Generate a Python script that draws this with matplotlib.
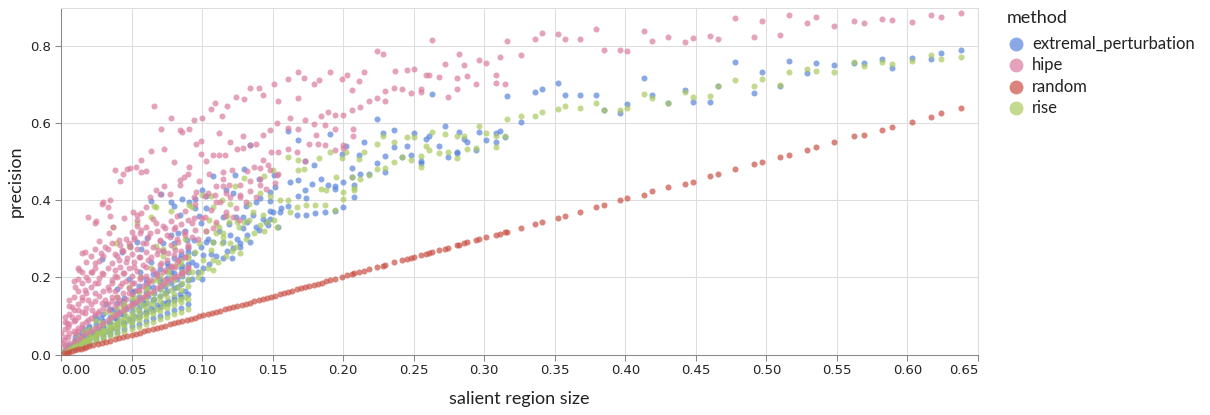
import matplotlib
matplotlib.use("Agg")
import matplotlib.pyplot as plt
from matplotlib.lines import Line2D

# method colours (drawn at opacity 0.7 like the original)
colors = {
    "extremal_perturbation": "#5884db",
    "hipe": "#db7c9e",
    "random": "#c95044",
    "rise": "#a8c95f",
}
methods = ["extremal_perturbation", "hipe", "random", "rise"]

# (salient region size, precision)
extremal_perturbation = [
    (0.002, 0.010), (0.004, 0.015), (0.006, 0.018), (0.008, 0.025), (0.010, 0.030),
    (0.012, 0.028), (0.014, 0.040), (0.016, 0.035), (0.018, 0.048), (0.020, 0.042),
    (0.022, 0.055), (0.024, 0.050), (0.026, 0.065), (0.028, 0.058), (0.030, 0.075),
    (0.032, 0.062), (0.034, 0.085), (0.036, 0.070), (0.038, 0.095), (0.040, 0.078),
    (0.042, 0.105), (0.044, 0.085), (0.046, 0.118), (0.048, 0.092), (0.050, 0.125),
    (0.052, 0.100), (0.054, 0.135), (0.056, 0.108), (0.058, 0.145), (0.060, 0.112),
    (0.062, 0.152), (0.064, 0.120), (0.066, 0.160), (0.068, 0.128), (0.070, 0.170),
    (0.072, 0.135), (0.074, 0.178), (0.076, 0.140), (0.078, 0.185), (0.080, 0.150),
    (0.082, 0.195), (0.084, 0.158), (0.086, 0.205), (0.088, 0.165), (0.090, 0.215),
    (0.012, 0.050), (0.020, 0.075), (0.028, 0.095), (0.036, 0.115), (0.044, 0.140),
    (0.052, 0.165), (0.060, 0.185), (0.068, 0.210), (0.076, 0.230), (0.084, 0.250),
    (0.090, 0.265), (0.040, 0.170), (0.056, 0.215), (0.064, 0.240), (0.072, 0.270),
    (0.080, 0.290), (0.088, 0.320), (0.048, 0.195), (0.032, 0.130), (0.024, 0.100),
    (0.016, 0.065), (0.070, 0.195), (0.086, 0.230), (0.078, 0.215), (0.062, 0.175),
    (0.082, 0.175), (0.074, 0.160), (0.066, 0.145), (0.058, 0.130),
    (0.029, 0.248), (0.043, 0.265), (0.049, 0.282), (0.054, 0.293), (0.061, 0.303),
    (0.057, 0.274), (0.072, 0.290), (0.078, 0.311), (0.083, 0.315), (0.089, 0.297),
    (0.064, 0.399), (0.071, 0.417), (0.078, 0.397), (0.080, 0.385), (0.086, 0.404),
    (0.091, 0.397), (0.095, 0.404), (0.084, 0.363), (0.095, 0.380),
    (0.097, 0.215), (0.105, 0.235), (0.110, 0.255), (0.118, 0.268), (0.125, 0.300),
    (0.132, 0.310), (0.138, 0.330), (0.145, 0.345), (0.150, 0.370), (0.104, 0.300),
    (0.112, 0.320), (0.119, 0.340), (0.106, 0.260), (0.131, 0.385), (0.138, 0.395),
    (0.156, 0.380), (0.098, 0.360), (0.103, 0.380),
    (0.161, 0.581), (0.168, 0.558), (0.134, 0.543), (0.108, 0.463), (0.130, 0.482),
    (0.123, 0.467), (0.117, 0.428), (0.122, 0.419), (0.140, 0.456), (0.151, 0.467),
    (0.148, 0.422), (0.152, 0.435), (0.162, 0.449), (0.168, 0.452), (0.173, 0.428),
    (0.178, 0.443), (0.184, 0.456), (0.189, 0.441), (0.173, 0.502), (0.179, 0.493),
    (0.168, 0.411), (0.174, 0.407), (0.167, 0.363), (0.174, 0.362), (0.180, 0.367),
    (0.187, 0.371), (0.194, 0.372), (0.200, 0.383), (0.161, 0.386), (0.155, 0.371),
    (0.148, 0.398), (0.141, 0.406), (0.148, 0.374), (0.143, 0.353), (0.136, 0.363),
    (0.132, 0.345), (0.129, 0.358), (0.124, 0.358), (0.148, 0.352), (0.154, 0.332),
    (0.147, 0.337), (0.140, 0.324), (0.134, 0.293), (0.127, 0.289), (0.122, 0.276),
    (0.121, 0.250), (0.127, 0.280), (0.115, 0.291), (0.115, 0.250), (0.108, 0.291),
    (0.103, 0.291), (0.101, 0.259), (0.099, 0.280), (0.094, 0.263), (0.093, 0.241),
    (0.096, 0.233), (0.101, 0.224), (0.100, 0.195), (0.093, 0.195), (0.099, 0.341),
    (0.094, 0.298), (0.100, 0.428), (0.103, 0.411), (0.120, 0.311), (0.129, 0.328),
    (0.115, 0.358),
    (0.191, 0.573), (0.199, 0.521), (0.202, 0.542), (0.200, 0.449), (0.194, 0.438),
    (0.194, 0.430), (0.206, 0.484), (0.206, 0.460), (0.208, 0.441), (0.208, 0.409),
    (0.211, 0.517), (0.212, 0.469), (0.215, 0.551), (0.218, 0.469), (0.224, 0.612),
    (0.224, 0.497), (0.228, 0.575), (0.230, 0.515), (0.230, 0.475), (0.236, 0.584),
    (0.236, 0.539), (0.242, 0.512), (0.245, 0.542), (0.248, 0.519), (0.250, 0.575),
    (0.255, 0.502), (0.255, 0.497), (0.259, 0.560), (0.261, 0.568), (0.263, 0.677),
    (0.268, 0.541), (0.272, 0.594), (0.274, 0.512), (0.281, 0.526), (0.281, 0.524),
    (0.282, 0.578), (0.286, 0.560), (0.288, 0.553), (0.294, 0.530), (0.296, 0.578),
    (0.301, 0.556), (0.308, 0.575), (0.308, 0.551), (0.311, 0.580), (0.315, 0.564),
    (0.316, 0.672), (0.326, 0.605), (0.336, 0.682), (0.341, 0.690), (0.352, 0.704),
    (0.357, 0.674), (0.368, 0.673), (0.379, 0.674), (0.385, 0.636), (0.396, 0.626),
    (0.401, 0.651), (0.413, 0.717),
    (0.419, 0.675), (0.430, 0.652), (0.442, 0.687), (0.448, 0.655), (0.460, 0.656),
    (0.466, 0.698), (0.478, 0.760), (0.491, 0.679), (0.497, 0.735), (0.510, 0.698),
    (0.516, 0.762), (0.529, 0.730), (0.535, 0.757), (0.548, 0.751), (0.562, 0.757),
    (0.569, 0.758), (0.582, 0.768), (0.589, 0.744), (0.603, 0.771), (0.617, 0.768),
    (0.624, 0.782), (0.638, 0.790),
]

# dense columns near the origin: size -> precisions
extremal_perturbation_dense = {
    0.005: [0.012, 0.018, 0.024],
    0.010: [0.018, 0.026, 0.035, 0.045],
    0.015: [0.024, 0.033, 0.046, 0.058],
    0.020: [0.031, 0.040, 0.052, 0.068],
    0.025: [0.038, 0.047, 0.061, 0.078, 0.092],
    0.030: [0.045, 0.056, 0.071, 0.088, 0.105],
    0.035: [0.052, 0.064, 0.083, 0.098, 0.118],
    0.040: [0.058, 0.072, 0.091, 0.112, 0.135],
    0.045: [0.066, 0.081, 0.103, 0.125, 0.148],
    0.050: [0.073, 0.090, 0.112, 0.138, 0.162],
    0.055: [0.080, 0.098, 0.122, 0.150, 0.178],
    0.060: [0.088, 0.107, 0.133, 0.162, 0.195],
    0.065: [0.095, 0.116, 0.142, 0.176, 0.208],
    0.070: [0.101, 0.124, 0.153, 0.188, 0.222],
    0.075: [0.108, 0.133, 0.164, 0.199, 0.238],
    0.080: [0.116, 0.141, 0.172, 0.212, 0.251],
    0.085: [0.122, 0.150, 0.183, 0.225, 0.262],
    0.090: [0.130, 0.158, 0.193, 0.236, 0.276],
}

hipe = [
    (0.001, 0.029), (0.003, 0.020), (0.000, 0.055), (0.002, 0.038), (0.003, 0.098),
    (0.004, 0.081), (0.005, 0.072), (0.005, 0.046), (0.006, 0.142), (0.008, 0.124),
    (0.008, 0.098), (0.009, 0.190), (0.010, 0.176), (0.010, 0.090), (0.010, 0.055),
    (0.012, 0.224), (0.012, 0.116), (0.012, 0.060), (0.013, 0.220), (0.015, 0.263),
    (0.015, 0.142), (0.015, 0.072), (0.017, 0.267), (0.017, 0.168), (0.017, 0.107),
    (0.019, 0.194), (0.019, 0.142), (0.019, 0.090), (0.022, 0.215), (0.022, 0.116),
    (0.024, 0.341), (0.024, 0.237), (0.024, 0.159), (0.025, 0.348), (0.026, 0.185),
    (0.026, 0.107), (0.028, 0.263), (0.029, 0.211), (0.029, 0.133), (0.031, 0.280),
    (0.031, 0.142), (0.034, 0.315), (0.034, 0.168), (0.034, 0.116), (0.036, 0.194),
    (0.036, 0.150), (0.037, 0.332), (0.038, 0.220), (0.041, 0.298), (0.041, 0.246),
    (0.041, 0.142), (0.043, 0.272), (0.043, 0.185), (0.045, 0.211), (0.047, 0.250),
    (0.048, 0.159), (0.049, 0.280), (0.050, 0.185), (0.052, 0.306), (0.052, 0.228),
    (0.054, 0.350), (0.055, 0.254), (0.055, 0.168), (0.057, 0.324), (0.057, 0.202),
    (0.060, 0.289), (0.060, 0.228), (0.062, 0.185), (0.063, 0.315), (0.064, 0.254),
    (0.064, 0.194), (0.067, 0.341), (0.067, 0.211), (0.069, 0.272), (0.070, 0.298),
    (0.071, 0.237), (0.074, 0.328), (0.074, 0.194), (0.074, 0.220), (0.076, 0.263),
    (0.077, 0.306), (0.078, 0.228), (0.081, 0.332), (0.081, 0.272), (0.081, 0.228),
    (0.083, 0.293), (0.083, 0.246), (0.086, 0.211), (0.087, 0.319), (0.088, 0.254),
    (0.090, 0.280), (0.090, 0.228), (0.093, 0.341), (0.095, 0.324), (0.093, 0.306),
    (0.066, 0.646), (0.078, 0.615), (0.071, 0.585), (0.084, 0.583), (0.086, 0.578),
    (0.091, 0.587), (0.073, 0.534), (0.064, 0.528), (0.057, 0.504), (0.080, 0.499),
    (0.091, 0.487), (0.087, 0.461), (0.090, 0.470), (0.084, 0.454), (0.084, 0.441),
    (0.053, 0.488), (0.049, 0.484), (0.047, 0.482), (0.060, 0.476), (0.057, 0.474),
    (0.038, 0.478), (0.044, 0.470), (0.042, 0.451), (0.073, 0.437), (0.063, 0.410),
    (0.070, 0.417), (0.077, 0.417), (0.067, 0.427), (0.035, 0.402), (0.029, 0.390),
    (0.030, 0.396), (0.033, 0.383), (0.019, 0.358), (0.035, 0.361), (0.045, 0.354),
    (0.051, 0.369), (0.054, 0.363), (0.057, 0.367), (0.060, 0.384), (0.065, 0.352),
    (0.097, 0.300), (0.103, 0.320), (0.110, 0.345), (0.117, 0.370), (0.124, 0.380),
    (0.131, 0.395), (0.138, 0.410), (0.145, 0.430), (0.152, 0.445), (0.106, 0.375),
    (0.113, 0.395), (0.120, 0.410), (0.127, 0.440), (0.134, 0.450), (0.141, 0.440),
    (0.098, 0.450), (0.105, 0.470), (0.121, 0.480),
    (0.094, 0.608), (0.100, 0.613), (0.106, 0.638), (0.109, 0.653), (0.114, 0.620),
    (0.118, 0.645), (0.124, 0.669), (0.130, 0.664), (0.134, 0.691), (0.140, 0.692),
    (0.143, 0.674), (0.151, 0.703), (0.154, 0.658), (0.168, 0.666), (0.162, 0.614),
    (0.153, 0.601), (0.148, 0.582), (0.143, 0.570), (0.138, 0.546), (0.134, 0.544),
    (0.129, 0.568), (0.129, 0.536), (0.125, 0.534), (0.120, 0.551), (0.116, 0.518),
    (0.112, 0.518), (0.108, 0.518), (0.103, 0.503), (0.099, 0.521), (0.096, 0.547),
    (0.099, 0.554), (0.112, 0.575), (0.115, 0.475), (0.115, 0.456), (0.110, 0.438),
    (0.115, 0.438), (0.119, 0.439), (0.117, 0.419), (0.109, 0.415), (0.110, 0.395),
    (0.104, 0.419), (0.102, 0.411), (0.096, 0.423), (0.094, 0.409), (0.095, 0.391),
    (0.094, 0.354), (0.100, 0.354), (0.102, 0.357), (0.108, 0.329), (0.116, 0.361),
    (0.122, 0.356), (0.126, 0.350), (0.127, 0.415), (0.127, 0.408), (0.134, 0.425),
    (0.132, 0.476), (0.137, 0.487), (0.141, 0.485), (0.143, 0.506), (0.147, 0.491),
    (0.148, 0.478), (0.153, 0.466), (0.154, 0.469), (0.141, 0.457), (0.149, 0.525),
    (0.154, 0.525), (0.161, 0.534), (0.167, 0.525), (0.173, 0.503), (0.161, 0.588),
    (0.168, 0.587), (0.173, 0.608), (0.179, 0.598), (0.184, 0.620), (0.189, 0.629),
    (0.187, 0.543), (0.182, 0.547), (0.176, 0.547), (0.181, 0.571), (0.187, 0.596),
    (0.161, 0.716), (0.168, 0.734), (0.172, 0.718), (0.179, 0.703), (0.183, 0.713),
    (0.191, 0.733), (0.199, 0.716), (0.203, 0.726), (0.206, 0.687), (0.211, 0.710),
    (0.212, 0.644), (0.215, 0.734), (0.218, 0.659), (0.224, 0.789), (0.224, 0.665),
    (0.228, 0.781), (0.230, 0.684), (0.230, 0.658), (0.236, 0.691), (0.237, 0.736),
    (0.242, 0.690), (0.245, 0.738), (0.248, 0.680), (0.250, 0.741), (0.255, 0.690),
    (0.255, 0.681), (0.259, 0.726), (0.261, 0.726), (0.263, 0.816), (0.268, 0.721),
    (0.272, 0.755), (0.274, 0.669), (0.281, 0.717), (0.281, 0.690), (0.282, 0.781),
    (0.286, 0.752), (0.288, 0.724), (0.294, 0.703), (0.296, 0.765), (0.301, 0.757),
    (0.308, 0.727), (0.308, 0.705), (0.311, 0.772), (0.315, 0.702), (0.316, 0.814),
    (0.326, 0.778), (0.336, 0.820), (0.341, 0.835), (0.352, 0.833), (0.357, 0.820),
    (0.368, 0.819), (0.379, 0.846), (0.385, 0.792), (0.396, 0.791), (0.401, 0.789),
    (0.413, 0.841), (0.194, 0.621), (0.200, 0.621), (0.206, 0.635), (0.194, 0.585),
    (0.207, 0.585), (0.207, 0.567), (0.200, 0.545), (0.200, 0.536), (0.194, 0.531),
    (0.419, 0.815), (0.430, 0.825), (0.442, 0.812), (0.448, 0.823), (0.460, 0.828),
    (0.466, 0.820), (0.478, 0.873), (0.491, 0.825), (0.497, 0.865), (0.510, 0.830),
    (0.516, 0.882), (0.529, 0.861), (0.535, 0.877), (0.548, 0.854), (0.562, 0.867),
    (0.569, 0.861), (0.582, 0.871), (0.589, 0.869), (0.603, 0.863), (0.617, 0.881),
    (0.624, 0.876), (0.638, 0.886),
]

hipe_dense = {
    0.003: [0.025, 0.045, 0.065, 0.085],
    0.006: [0.030, 0.055, 0.080, 0.105, 0.125],
    0.009: [0.035, 0.060, 0.088, 0.115, 0.150],
    0.012: [0.040, 0.070, 0.098, 0.130, 0.165, 0.195],
    0.015: [0.048, 0.078, 0.110, 0.150, 0.185, 0.215],
    0.018: [0.055, 0.085, 0.120, 0.160, 0.200, 0.240],
    0.021: [0.060, 0.095, 0.130, 0.175, 0.215, 0.255],
    0.024: [0.068, 0.105, 0.140, 0.185, 0.225, 0.275],
    0.027: [0.075, 0.112, 0.152, 0.198, 0.242, 0.295],
    0.030: [0.082, 0.120, 0.165, 0.210, 0.255],
    0.033: [0.090, 0.130, 0.175, 0.225, 0.275],
    0.036: [0.098, 0.140, 0.185, 0.238, 0.290],
    0.038: [0.102, 0.125, 0.165, 0.205, 0.262],
    0.040: [0.105, 0.150, 0.200, 0.255],
    0.042: [0.110, 0.135, 0.178, 0.228, 0.285],
    0.044: [0.115, 0.160, 0.212, 0.270],
    0.046: [0.120, 0.145, 0.192, 0.240, 0.300],
    0.048: [0.125, 0.172, 0.225, 0.290],
    0.050: [0.130, 0.158, 0.205, 0.262, 0.318],
    0.052: [0.135, 0.185, 0.240, 0.300],
    0.054: [0.140, 0.168, 0.218, 0.275, 0.335],
    0.056: [0.145, 0.195, 0.252, 0.315],
    0.058: [0.150, 0.178, 0.232, 0.290],
    0.060: [0.155, 0.205, 0.265, 0.330],
    0.062: [0.160, 0.192, 0.245, 0.305],
    0.065: [0.165, 0.220, 0.280],
    0.068: [0.172, 0.205, 0.260, 0.320],
    0.070: [0.178, 0.232, 0.295],
    0.072: [0.182, 0.215, 0.270, 0.335],
    0.075: [0.190, 0.245, 0.310],
    0.078: [0.195, 0.230, 0.285, 0.348],
    0.080: [0.200, 0.258, 0.325],
    0.082: [0.205, 0.240, 0.300, 0.360],
    0.085: [0.212, 0.270, 0.340],
    0.088: [0.218, 0.252, 0.310, 0.372],
    0.090: [0.225, 0.285, 0.350],
}

random = [
    (0.002, 0.003), (0.004, 0.005), (0.006, 0.007), (0.008, 0.009), (0.010, 0.011),
    (0.012, 0.013), (0.014, 0.015), (0.016, 0.017), (0.018, 0.019), (0.020, 0.021),
    (0.023, 0.024), (0.026, 0.027), (0.029, 0.030), (0.032, 0.033), (0.035, 0.036),
    (0.038, 0.039), (0.041, 0.042), (0.044, 0.045), (0.047, 0.048), (0.050, 0.051),
    (0.053, 0.054), (0.056, 0.057), (0.059, 0.060), (0.062, 0.063), (0.065, 0.066),
    (0.068, 0.069), (0.071, 0.072), (0.074, 0.075), (0.077, 0.078), (0.080, 0.081),
    (0.083, 0.084), (0.086, 0.087), (0.089, 0.090), (0.092, 0.093), (0.095, 0.096),
    (0.098, 0.099), (0.101, 0.102), (0.104, 0.105), (0.107, 0.108), (0.110, 0.111),
    (0.113, 0.114), (0.116, 0.117), (0.119, 0.120), (0.122, 0.123), (0.125, 0.126),
    (0.128, 0.129), (0.131, 0.132), (0.134, 0.135), (0.137, 0.138), (0.140, 0.141),
    (0.143, 0.144), (0.146, 0.147), (0.149, 0.150), (0.152, 0.153), (0.155, 0.156),
    (0.158, 0.160), (0.161, 0.163), (0.164, 0.166), (0.167, 0.169), (0.170, 0.172),
    (0.173, 0.175), (0.176, 0.178), (0.179, 0.181), (0.182, 0.184), (0.185, 0.187),
    (0.188, 0.190), (0.191, 0.194), (0.194, 0.197), (0.199, 0.202), (0.203, 0.206),
    (0.206, 0.209), (0.208, 0.211), (0.211, 0.214), (0.215, 0.218), (0.218, 0.221),
    (0.224, 0.227), (0.228, 0.231), (0.230, 0.233), (0.236, 0.239), (0.242, 0.245),
    (0.245, 0.248), (0.248, 0.251), (0.250, 0.253), (0.255, 0.258), (0.259, 0.262),
    (0.261, 0.264), (0.263, 0.266), (0.268, 0.271), (0.272, 0.275), (0.274, 0.277),
    (0.281, 0.284), (0.282, 0.285), (0.286, 0.289), (0.288, 0.291), (0.294, 0.297),
    (0.296, 0.299), (0.301, 0.304), (0.308, 0.311), (0.311, 0.314), (0.315, 0.318),
    (0.316, 0.319), (0.326, 0.329), (0.336, 0.339), (0.341, 0.344), (0.352, 0.355),
    (0.357, 0.360), (0.368, 0.371), (0.379, 0.383), (0.385, 0.389), (0.396, 0.401),
    (0.401, 0.406), (0.413, 0.413), (0.419, 0.424), (0.430, 0.436), (0.442, 0.443),
    (0.448, 0.449), (0.460, 0.464), (0.466, 0.469), (0.478, 0.483), (0.491, 0.495),
    (0.497, 0.500), (0.510, 0.513), (0.516, 0.518), (0.529, 0.531), (0.535, 0.539),
    (0.548, 0.551), (0.562, 0.567), (0.569, 0.570), (0.582, 0.584), (0.589, 0.592),
    (0.603, 0.605), (0.617, 0.617), (0.624, 0.626), (0.638, 0.640),
]

rise = [
    (0.002, 0.008), (0.004, 0.012), (0.006, 0.015), (0.008, 0.020), (0.010, 0.022),
    (0.012, 0.026), (0.014, 0.030), (0.016, 0.034), (0.018, 0.038), (0.020, 0.040),
    (0.022, 0.046), (0.024, 0.048), (0.026, 0.055), (0.028, 0.056), (0.030, 0.062),
    (0.032, 0.060), (0.034, 0.072), (0.036, 0.068), (0.038, 0.080), (0.040, 0.075),
    (0.042, 0.090), (0.044, 0.080), (0.046, 0.100), (0.048, 0.088), (0.050, 0.108),
    (0.052, 0.095), (0.054, 0.118), (0.056, 0.100), (0.058, 0.128), (0.060, 0.105),
    (0.062, 0.135), (0.064, 0.112), (0.066, 0.145), (0.068, 0.118), (0.070, 0.152),
    (0.072, 0.125), (0.074, 0.160), (0.076, 0.132), (0.078, 0.168), (0.080, 0.138),
    (0.082, 0.175), (0.084, 0.145), (0.086, 0.185), (0.088, 0.150), (0.090, 0.195),
    (0.012, 0.045), (0.020, 0.065), (0.028, 0.085), (0.036, 0.105), (0.044, 0.125),
    (0.052, 0.150), (0.060, 0.170), (0.068, 0.195), (0.076, 0.215), (0.084, 0.235),
    (0.090, 0.250), (0.040, 0.150), (0.056, 0.200), (0.064, 0.225), (0.072, 0.255),
    (0.080, 0.280), (0.088, 0.300), (0.048, 0.175), (0.032, 0.110), (0.024, 0.090),
    (0.016, 0.060), (0.070, 0.185), (0.086, 0.215), (0.078, 0.200), (0.062, 0.160),
    (0.067, 0.384), (0.054, 0.342), (0.037, 0.332), (0.039, 0.290), (0.048, 0.281),
    (0.067, 0.281), (0.072, 0.273), (0.066, 0.386), (0.064, 0.358), (0.078, 0.374),
    (0.091, 0.389),
    (0.097, 0.200), (0.104, 0.225), (0.111, 0.240), (0.117, 0.255), (0.124, 0.280),
    (0.131, 0.300), (0.137, 0.315), (0.144, 0.320), (0.151, 0.350), (0.103, 0.320),
    (0.110, 0.340), (0.118, 0.360), (0.126, 0.330), (0.133, 0.390), (0.098, 0.290),
    (0.105, 0.350),
    (0.161, 0.513), (0.168, 0.504), (0.172, 0.482), (0.183, 0.510), (0.168, 0.478),
    (0.150, 0.480), (0.144, 0.463), (0.130, 0.458), (0.123, 0.438), (0.148, 0.412),
    (0.141, 0.419), (0.143, 0.363), (0.136, 0.371), (0.133, 0.350), (0.130, 0.345),
    (0.125, 0.343), (0.119, 0.345), (0.112, 0.332), (0.115, 0.315), (0.115, 0.306),
    (0.110, 0.315), (0.108, 0.293), (0.114, 0.289), (0.121, 0.270), (0.127, 0.263),
    (0.120, 0.289), (0.141, 0.337), (0.153, 0.332), (0.167, 0.383), (0.174, 0.389),
    (0.180, 0.388), (0.187, 0.389), (0.194, 0.376), (0.188, 0.428), (0.184, 0.430),
    (0.162, 0.371), (0.161, 0.402), (0.155, 0.402), (0.146, 0.343), (0.106, 0.272),
    (0.108, 0.246), (0.108, 0.220), (0.101, 0.246), (0.095, 0.265), (0.093, 0.213),
    (0.099, 0.213), (0.106, 0.411), (0.100, 0.415), (0.093, 0.382), (0.120, 0.391),
    (0.108, 0.384), (0.114, 0.402),
    (0.191, 0.525), (0.195, 0.462), (0.200, 0.423), (0.200, 0.404), (0.202, 0.527),
    (0.199, 0.510), (0.206, 0.460), (0.208, 0.432), (0.208, 0.426), (0.211, 0.508),
    (0.212, 0.456), (0.215, 0.527), (0.218, 0.466), (0.224, 0.548), (0.224, 0.482),
    (0.228, 0.567), (0.230, 0.484), (0.236, 0.551), (0.236, 0.500), (0.242, 0.512),
    (0.245, 0.565), (0.248, 0.504), (0.250, 0.565), (0.255, 0.516), (0.255, 0.488),
    (0.259, 0.541), (0.261, 0.531), (0.263, 0.577), (0.268, 0.523), (0.272, 0.573),
    (0.274, 0.527), (0.281, 0.568), (0.281, 0.511), (0.286, 0.567), (0.288, 0.534),
    (0.294, 0.536), (0.296, 0.594), (0.301, 0.575), (0.308, 0.568), (0.308, 0.539),
    (0.315, 0.568), (0.316, 0.611), (0.326, 0.619), (0.336, 0.620), (0.341, 0.631),
    (0.352, 0.638), (0.357, 0.646), (0.368, 0.640), (0.379, 0.652), (0.385, 0.636),
    (0.396, 0.636), (0.401, 0.641), (0.413, 0.677),
    (0.419, 0.665), (0.430, 0.652), (0.442, 0.682), (0.448, 0.669), (0.460, 0.671),
    (0.466, 0.698), (0.478, 0.713), (0.491, 0.697), (0.497, 0.716), (0.510, 0.701),
    (0.516, 0.733), (0.529, 0.741), (0.535, 0.737), (0.548, 0.735), (0.562, 0.759),
    (0.569, 0.749), (0.582, 0.760), (0.589, 0.754), (0.603, 0.763), (0.617, 0.778),
    (0.624, 0.767), (0.638, 0.773),
]

rise_dense = {
    0.005: [0.010, 0.015],
    0.010: [0.016, 0.022, 0.030],
    0.015: [0.021, 0.029, 0.040],
    0.020: [0.027, 0.036, 0.047, 0.058],
    0.025: [0.034, 0.043, 0.055, 0.070],
    0.030: [0.040, 0.050, 0.064, 0.080],
    0.035: [0.047, 0.058, 0.074, 0.090],
    0.040: [0.053, 0.066, 0.083, 0.102, 0.122],
    0.045: [0.059, 0.074, 0.093, 0.114, 0.135],
    0.050: [0.066, 0.082, 0.101, 0.125, 0.148],
    0.055: [0.072, 0.089, 0.111, 0.137, 0.162],
    0.060: [0.079, 0.097, 0.121, 0.148, 0.176],
    0.065: [0.085, 0.105, 0.130, 0.160, 0.190],
    0.070: [0.092, 0.113, 0.140, 0.171, 0.204],
    0.075: [0.098, 0.121, 0.150, 0.183, 0.216],
    0.080: [0.105, 0.129, 0.158, 0.194, 0.230],
    0.085: [0.111, 0.137, 0.168, 0.206, 0.243],
    0.090: [0.118, 0.145, 0.178, 0.218, 0.256],
}

x_ticks = [0.00, 0.05, 0.10, 0.15, 0.20, 0.25, 0.30, 0.35, 0.40, 0.45, 0.50, 0.55, 0.60, 0.65]
y_ticks = [0.0, 0.2, 0.4, 0.6, 0.8]


def merge(points, dense):
    xs = [p[0] for p in points]
    ys = [p[1] for p in points]
    for x, vals in dense.items():
        for v in vals:
            xs.append(x)
            ys.append(v)
    return xs, ys


series = {
    "extremal_perturbation": merge(extremal_perturbation, extremal_perturbation_dense),
    "hipe": merge(hipe, hipe_dense),
    "random": merge(random, {}),
    "rise": merge(rise, rise_dense),
}

W, H = 1210, 415
fig = plt.figure(figsize=(W / 100, H / 100), dpi=100)
ax = fig.add_axes([61 / W, (H - 354.5) / H, (978 - 61) / W, (354.5 - 8) / H])

for name in ["extremal_perturbation", "rise", "hipe", "random"]:
    xs, ys = series[name]
    ax.scatter(xs, ys, s=19, color=colors[name], alpha=0.7, linewidths=0, zorder=3)

ax.set_xlim(0, 0.65)
ax.set_ylim(0, 0.9)
ax.set_xticks(x_ticks)
ax.set_xticklabels([f"{t:.2f}" for t in x_ticks])
ax.set_yticks(y_ticks)
ax.set_yticklabels([f"{t:.1f}" for t in y_ticks])
xl = ax.get_xticklabels()
xl[0].set_ha("left")
xl[-1].set_ha("right")

ax.grid(True, color="#dddddd", linewidth=0.75, zorder=0)
ax.set_axisbelow(True)
for side in ["top", "right"]:
    ax.spines[side].set_color("#dddddd")
    ax.spines[side].set_linewidth(0.75)
for side in ["left", "bottom"]:
    ax.spines[side].set_color("#888888")
    ax.spines[side].set_linewidth(0.75)
ax.tick_params(axis="both", length=4, width=0.75, color="#888888",
               labelsize=9.5, labelcolor="#222222")
ax.tick_params(axis="x", pad=3)
ax.tick_params(axis="y", pad=3)

title_font = ["Lato", "DejaVu Sans"]
fig.text(519 / W, 1 - 399 / H, "salient region size", ha="center", va="center",
         fontsize=13, family=title_font, color="#222222")
fig.text(16 / W, 1 - 181 / H, "precision", ha="center", va="center",
         rotation=90, fontsize=13, family=title_font, color="#222222")

# legend
fig.text(1007 / W, 1 - 18 / H, "method", ha="left", va="center",
         fontsize=13, family=title_font, color="#222222")
for i, name in enumerate(methods):
    yc = 44 + i * 21.3
    fig.lines.append(Line2D([1016 / W], [1 - yc / H], transform=fig.transFigure,
                            marker="o", markersize=10, linestyle="",
                            color=colors[name], alpha=0.7, markeredgewidth=0))
    fig.text(1032 / W, 1 - yc / H, name, ha="left", va="center",
             fontsize=12, family=title_font, color="#222222")

fig.savefig("out.png", dpi=100)
